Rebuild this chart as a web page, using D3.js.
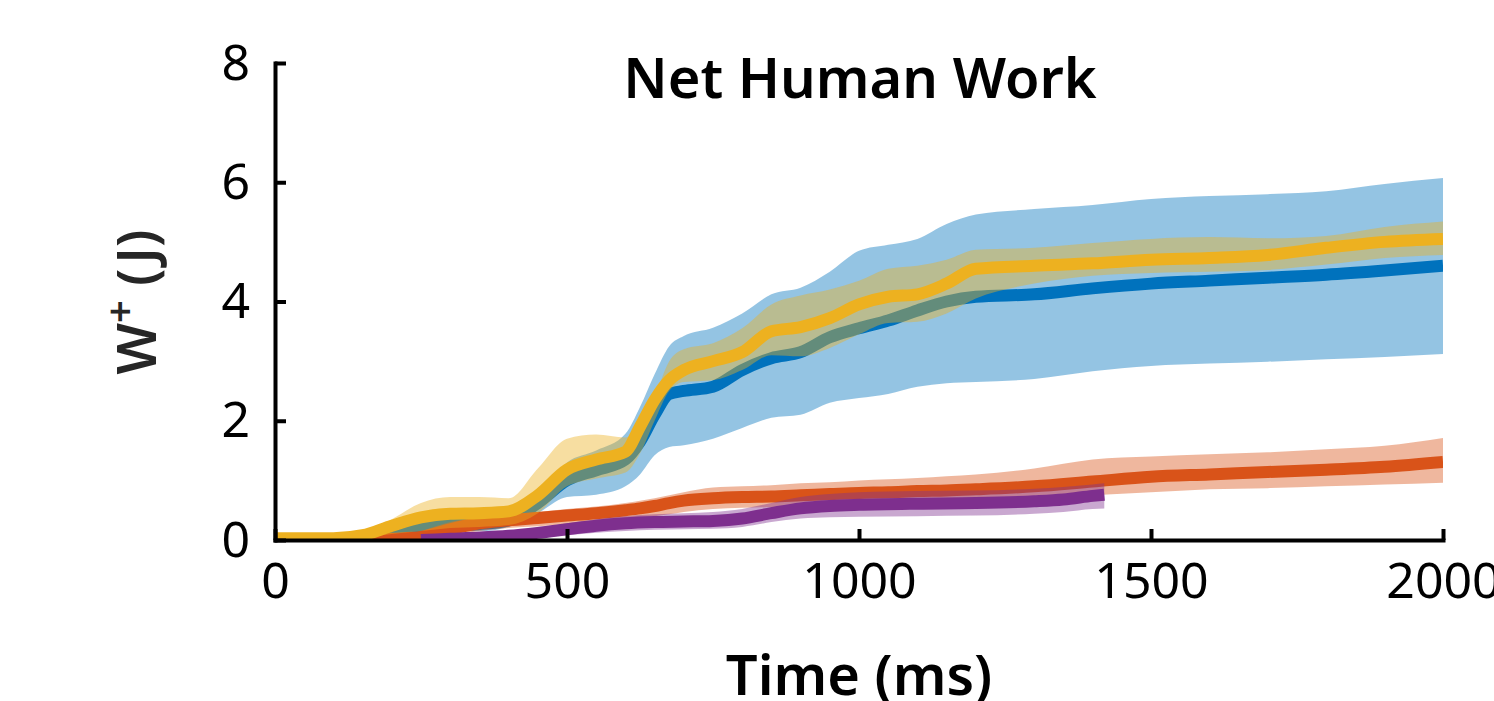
<!DOCTYPE html>
<html>
<head>
<meta charset="utf-8">
<script src="https://cdn.jsdelivr.net/npm/d3@7"></script>
<style>
  body { margin: 0; background: #fff; }
  svg { display: block; font-family: "Noto Sans", "Open Sans", sans-serif; }
  .axis path, .axis line { stroke: #000; stroke-width: 4; }
  .axis text { font-family: "Noto Sans", "Open Sans", sans-serif; font-size: 50px; fill: #000; }
</style>
</head>
<body>
<svg id="chart" width="1494" height="701"></svg>
<script>
// values
var time = [0,100,150,200,250,300,350,400,450,500,550,600,625,650,675,700,750,800,850,900,950,1000,1050,1100,1150,1200,1300,1400,1500,1600,1700,1800,1900,2000];

var blueMean = [0,0,0.01,0.08,0.2,0.25,0.27,0.33,0.62,1.0,1.17,1.35,1.65,2.1,2.45,2.5,2.57,2.85,3.05,3.15,3.4,3.55,3.68,3.85,4.0,4.08,4.12,4.22,4.3,4.35,4.4,4.45,4.52,4.6];
var blueHi   = [0,0,0.01,0.1,0.3,0.4,0.42,0.45,0.75,1.3,1.5,1.78,2.23,2.78,3.25,3.42,3.56,3.8,4.12,4.23,4.5,4.85,4.95,5.05,5.3,5.46,5.55,5.62,5.72,5.77,5.8,5.85,5.97,6.07];
var blueLo   = [0,0,0,0.05,0.12,0.15,0.15,0.22,0.45,0.72,0.76,0.9,1.1,1.42,1.56,1.59,1.7,1.88,2.05,2.1,2.3,2.38,2.45,2.57,2.63,2.65,2.7,2.83,2.92,2.96,2.99,3.03,3.07,3.12];

var redMean = [0,0,0,0.02,0.05,0.18,0.28,0.33,0.37,0.41,0.45,0.5,0.53,0.57,0.62,0.66,0.7,0.72,0.73,0.75,0.77,0.79,0.8,0.82,0.83,0.85,0.9,0.98,1.06,1.1,1.14,1.18,1.23,1.31];
var redHi   = [0,0,0,0.03,0.15,0.3,0.38,0.43,0.47,0.52,0.56,0.62,0.66,0.7,0.75,0.8,0.88,0.9,0.92,0.95,0.97,1.0,1.02,1.04,1.07,1.1,1.2,1.35,1.4,1.44,1.47,1.52,1.58,1.71];
var redLo   = [0,0,0,0,0.02,0.07,0.15,0.2,0.23,0.27,0.3,0.34,0.37,0.4,0.43,0.47,0.52,0.54,0.55,0.56,0.57,0.58,0.6,0.61,0.62,0.64,0.68,0.75,0.8,0.85,0.87,0.9,0.93,0.96];

var yellowMean = [0.03,0.03,0.08,0.24,0.38,0.44,0.45,0.48,0.75,1.18,1.35,1.48,1.9,2.35,2.68,2.85,3.0,3.15,3.5,3.57,3.72,3.95,4.08,4.12,4.3,4.55,4.6,4.64,4.7,4.73,4.78,4.9,5.0,5.05];
var yellowHi   = [0.03,0.03,0.1,0.35,0.62,0.72,0.72,0.7,1.2,1.7,1.77,1.72,1.95,2.4,3.0,3.2,3.3,3.55,3.95,4.1,4.2,4.35,4.55,4.6,4.7,4.87,4.9,4.98,5.05,5.08,5.06,5.1,5.25,5.34];
var yellowLo   = [0.02,0.02,0.04,0.1,0.15,0.2,0.22,0.25,0.45,0.9,1.03,1.13,1.45,2.0,2.5,2.65,2.68,2.85,3.1,3.08,3.22,3.45,3.64,3.66,3.8,4.05,4.3,4.43,4.48,4.5,4.53,4.62,4.73,4.78];

// purple only shows from ~250 ms and stops at ~1420 ms
var purpleTime = [250,300,350,400,450,500,550,600,650,700,750,800,850,900,950,1000,1100,1200,1300,1350,1400,1420];
var purpleMean = [0,0.02,0.04,0.07,0.12,0.18,0.24,0.28,0.3,0.31,0.32,0.36,0.45,0.53,0.57,0.59,0.61,0.62,0.65,0.68,0.74,0.76];
var purpleHi   = [0.01,0.05,0.08,0.13,0.2,0.28,0.35,0.4,0.43,0.45,0.47,0.52,0.62,0.72,0.77,0.8,0.82,0.83,0.86,0.89,0.93,0.95];
var purpleLo   = [0,0,0.01,0.02,0.05,0.08,0.12,0.15,0.17,0.18,0.19,0.22,0.3,0.36,0.38,0.39,0.4,0.41,0.44,0.47,0.52,0.53];

var xTicks = [0, 500, 1000, 1500, 2000];
var yTicks = [0, 2, 4, 6, 8];

var svg = d3.select('#chart');
// plot box in pixels (don't call it "top", that's window.top)
var plotLeft = 275, plotRight = 1443, plotTop = 63, plotBottom = 540;

var x = d3.scaleLinear().domain([0, 2000]).range([plotLeft, plotRight]);
var y = d3.scaleLinear().domain([0, 8]).range([plotBottom, plotTop]);

svg.append('clipPath')
    .attr('id', 'box')
  .append('rect')
    .attr('x', plotLeft)
    .attr('y', plotTop)
    .attr('width', plotRight - plotLeft)
    .attr('height', plotBottom - plotTop);

// draw order like matlab: blue, red, yellow, purple
var series = [
  {t: time, m: blueMean, lo: blueLo, hi: blueHi, c: '#0072BD'},
  {t: time, m: redMean, lo: redLo, hi: redHi, c: '#D95319'},
  {t: time, m: yellowMean, lo: yellowLo, hi: yellowHi, c: '#EDB120'},
  {t: purpleTime, m: purpleMean, lo: purpleLo, hi: purpleHi, c: '#7E2F8E'}
];

var plot = svg.append('g').attr('clip-path', 'url(#box)');
series.forEach(function(s) {
  var idx = d3.range(s.t.length);
  var band = d3.area()
      .x(function(i) { return x(s.t[i]); })
      .y0(function(i) { return y(s.lo[i]); })
      .y1(function(i) { return y(s.hi[i]); })
      .curve(d3.curveMonotoneX);
  var line = d3.line()
      .x(function(i) { return x(s.t[i]); })
      .y(function(i) { return y(s.m[i]); })
      .curve(d3.curveMonotoneX);
  plot.append('path')
      .attr('d', band(idx))
      .attr('fill', s.c)
      .attr('fill-opacity', 0.42);
  plot.append('path')
      .attr('d', line(idx))
      .attr('fill', 'none')
      .attr('stroke', s.c)
      .attr('stroke-width', 12);
});

// axes, ticks inward
svg.append('g')
    .attr('class', 'axis')
    .attr('transform', 'translate(0,' + plotBottom + ')')
    .call(d3.axisBottom(x).tickValues(xTicks).tickFormat(d3.format('d'))
      .tickSizeInner(-11).tickSizeOuter(0).tickPadding(22))
    .call(function(g) { g.selectAll('text').attr('dy', '0.71em'); });

svg.append('g')
    .attr('class', 'axis')
    .attr('transform', 'translate(' + plotLeft + ',0)')
    .call(d3.axisLeft(y).tickValues(yTicks).tickFormat(d3.format('d'))
      .tickSizeInner(-11).tickSizeOuter(0).tickPadding(25));

svg.selectAll('.axis .domain').attr('stroke-linecap', 'square');

// title and labels
svg.append('text')
    .attr('x', 860)
    .attr('y', 98)
    .attr('text-anchor', 'middle')
    .attr('font-size', 56)
    .attr('font-weight', 600)
    .text('Net Human Work');

svg.append('text')
    .attr('x', 859)
    .attr('y', 695)
    .attr('text-anchor', 'middle')
    .attr('font-size', 56)
    .attr('font-weight', 600)
    .text('Time (ms)');

var yl = svg.append('text')
    .attr('transform', 'translate(156,302) rotate(-90)')
    .attr('text-anchor', 'middle')
    .attr('font-size', 54)
    .attr('font-weight', 600)
    .attr('fill', '#262626');
yl.append('tspan').text('W');
yl.append('tspan').attr('dy', -22).attr('font-size', 40).text('+');
yl.append('tspan').attr('dy', 22).text(' (J)');
</script>
</body>
</html>
